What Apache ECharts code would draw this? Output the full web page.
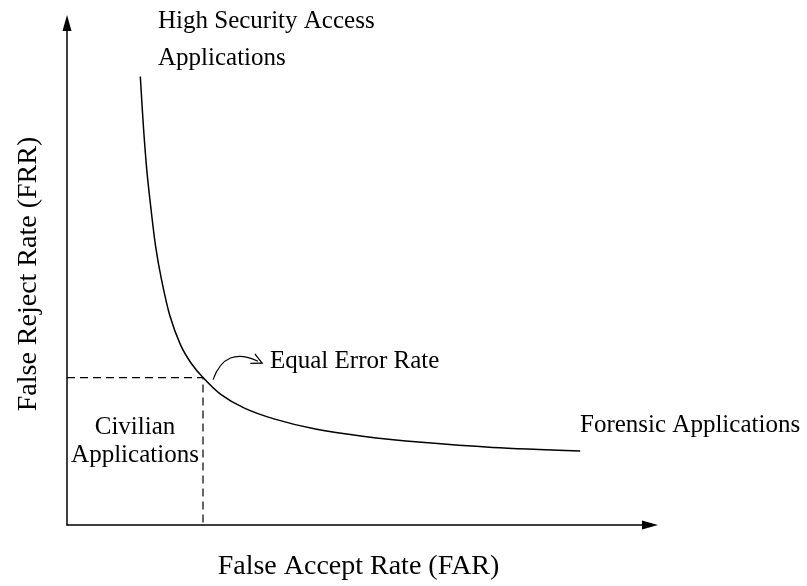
<!DOCTYPE html>
<html>
<head>
    <meta charset="UTF-8">
    <title>FAR / FRR</title>
    <style type="text/css">
        html, body {
            margin: 0;
            padding: 0;
            background: #fff;
        }

        #mychart {
            width: 807px;
            height: 586px;
        }
    </style>
    <script type="text/javascript" src="https://cdn.jsdelivr.net/npm/echarts@6/dist/echarts.min.js"></script>
</head>
<body>
<div id="mychart"></div>
<script type="text/javascript">
    // curve values
    var farValues = [12.4, 12.9, 13.5, 14.2, 15.0, 16.0, 17.4, 19.2, 21.0, 23.0, 26.0, 30.0, 35.0, 42.0, 50.0, 60.0, 72.0, 86.8];
    var frrValues = [87.9, 78.5, 69.5, 62.0, 54.5, 48.0, 41.0, 35.3, 31.7, 28.9, 25.6, 22.9, 20.8, 18.8, 17.4, 16.2, 15.2, 14.5];
    // equal error rate point
    var eerPoint = [23.0, 28.9];
    // small curved arrow pointing at the EER label
    var eerArrowFrom = [24.7, 28.5];
    var eerArrowTo = [32.3, 32.1];

    var serif = "'Liberation Serif', 'DejaVu Serif', serif";

    var curveData = farValues.map(function (x, i) {
        return [x, frrValues[i]];
    });
    var dashData = [[0, eerPoint[1]], eerPoint, [eerPoint[0], 0]];

    var myChart = echarts.init(document.getElementById('mychart'));

    var axisLine = {
        show: true,
        symbol: ['none', 'triangle'],
        symbolSize: [9, 16],
        lineStyle: {color: '#000', width: 1.5}
    };

    var option = {
        animation: false,
        grid: {left: 67, right: 157, top: 23, bottom: 59},
        xAxis: {
            type: 'value',
            min: 0,
            max: 98.6,
            name: 'False Accept Rate (FAR)',
            nameLocation: 'middle',
            nameGap: 28,
            nameTextStyle: {fontFamily: serif, fontSize: 28, color: '#000'},
            axisLine: axisLine,
            axisTick: {show: false},
            axisLabel: {show: false},
            splitLine: {show: false}
        },
        yAxis: {
            type: 'value',
            min: 0,
            max: 98.4,
            name: 'False Reject Rate (FRR)',
            nameLocation: 'middle',
            nameGap: 24,
            nameTextStyle: {fontFamily: serif, fontSize: 28, color: '#000'},
            axisLine: axisLine,
            axisTick: {show: false},
            axisLabel: {show: false},
            splitLine: {show: false}
        },
        series: [
            {
                type: 'line',
                data: curveData,
                smooth: 0.3,
                symbol: 'none',
                silent: true,
                lineStyle: {color: '#000', width: 1.5}
            },
            {
                type: 'line',
                data: dashData,
                symbol: 'none',
                silent: true,
                lineStyle: {color: '#000', width: 1.2, type: [8, 5]}
            },
            {
                type: 'lines',
                coordinateSystem: 'cartesian2d',
                silent: true,
                symbol: ['none', 'path://M5,0 L10,11 L8.8,11 L5,2.6 L1.2,11 L0,11 Z'],
                symbolSize: [11, 12],
                lineStyle: {color: '#000', width: 1.2, opacity: 1, curveness: 0.55},
                data: [{coords: [eerArrowFrom, eerArrowTo]}]
            }
        ],
        graphic: [
            {type: 'text', left: 158, top: 9, style: {text: 'High Security Access', font: '25px ' + serif, fill: '#000'}},
            {type: 'text', left: 158, top: 46, style: {text: 'Applications', font: '25px ' + serif, fill: '#000'}},
            {type: 'text', left: 270, top: 349, style: {text: 'Equal Error Rate', font: '25px ' + serif, fill: '#000'}},
            {type: 'text', x: 135, y: 427, style: {text: 'Civilian', font: '25px ' + serif, fill: '#000', align: 'center', verticalAlign: 'middle'}},
            {type: 'text', x: 135, y: 455, style: {text: 'Applications', font: '25px ' + serif, fill: '#000', align: 'center', verticalAlign: 'middle'}},
            {type: 'text', left: 580, top: 413, style: {text: 'Forensic Applications', font: '25px ' + serif, fill: '#000'}}
        ]
    };
    myChart.setOption(option);
</script>
</body>
</html>
